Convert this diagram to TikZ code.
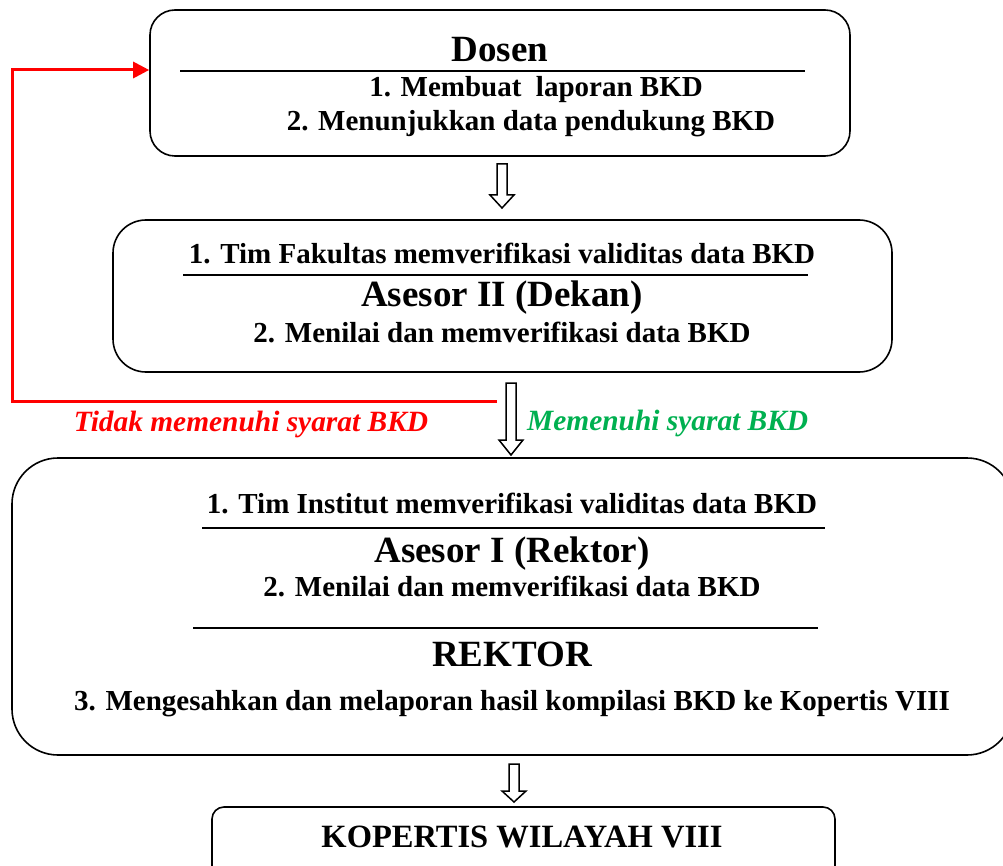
\documentclass[tikz,border=0pt]{standalone}
\usepackage{fontspec}
\setmainfont{Liberation Serif}
\usetikzlibrary{arrows.meta}
\definecolor{okgreen}{RGB}{0,176,80}
\newcommand\hollowdown[4]{% x, ytop, yheadstart, ytip
  \draw[line width=1.5pt, line join=miter, fill=white]
    (#1-5,#2) -- (#1+5,#2) -- (#1+5,#3) -- (#1+12,#3) -- (#1,#4) -- (#1-12,#3) -- (#1-5,#3) -- cycle;}
\begin{document}
\begin{tikzpicture}[x=1pt,y=-1pt,
  box/.style={draw, line width=1.6pt, inner sep=0pt},
  body/.style={font=\fontsize{29}{33}\selectfont\bfseries, inner sep=0pt, anchor=base},
  title/.style={font=\fontsize{37}{41}\selectfont\bfseries, inner sep=0pt, anchor=base},
  sep/.style={line width=1.3pt},
  lbl/.style={font=\fontsize{29.4}{33}\selectfont\bfseries\itshape, inner sep=0pt, anchor=base}]
\clip (0,0) rectangle (1003,866);
\useasboundingbox (0,0) rectangle (1003,866);
% boxes
\node[box, rounded corners=25pt, minimum width=700pt, minimum height=146pt] (dosen) at (500,83) {};
\node[box, rounded corners=33pt, minimum width=779pt, minimum height=152pt] (dekan) at (502.5,296) {};
\node[box, rounded corners=46pt, minimum width=1001pt, minimum height=297pt] (rektor) at (512.5,606.5) {};
\node[box, rounded corners=12pt, minimum width=623pt, minimum height=100pt] (kop) at (523.5,857) {};
% Dosen texts
\node[title] (t1) at (500,62) {Dosen};
\draw[sep] (180,71) -- (805,71);
\node[body] (t2) at (536,97) {1. Membuat\ \ laporan BKD};
\node[body] (t3) at (531,131) {2. Menunjukkan data pendukung BKD};
% Dekan texts
\node[body] (d1) at (502,264) {1. Tim Fakultas memverifikasi validitas data BKD};
\draw[sep] (183,275) -- (808,275);
\node[title] (d2) at (502,307) {Asesor II (Dekan)};
\node[body] (d3) at (502,342) {2. Menilai dan memverifikasi data BKD};
% Rektor texts
\node[body] (r1) at (512,513) {1. Tim Institut memverifikasi validitas data BKD};
\draw[sep] (202,528) -- (825,528);
\node[title] (r2) at (512,562) {Asesor I (Rektor)};
\node[body] (r3) at (512,596) {2. Menilai dan memverifikasi data BKD};
\draw[sep] (193,628) -- (818,628);
\node[title] (r4) at (512,666) {REKTOR};
\node[body] (r5) at (512,710) {3. Mengesahkan dan melaporan hasil kompilasi BKD ke Kopertis VIII};
% Kopertis
\node[body, font=\fontsize{32.5}{36}\selectfont\bfseries] (k1) at (522,847) {KOPERTIS WILAYAH VIII};
% arrows
\hollowdown{502}{164}{195}{208}
\hollowdown{511}{383}{440}{455}
\hollowdown{514}{764}{791}{802}
% red feedback
\coordinate (rs) at (497,401);
\coordinate (rc) at (12,401);
\draw[red, line width=3pt, -{Triangle[length=16pt,width=16pt]}] (rs) -- (rc) |- ([yshift=13pt]dosen.west);
% labels
\node[lbl, text=red] (no) at (251,431) {Tidak memenuhi syarat BKD};
\node[lbl, text=okgreen, anchor=base west] (yes) at (527,430) {Memenuhi syarat BKD};
\end{tikzpicture}
\end{document}
